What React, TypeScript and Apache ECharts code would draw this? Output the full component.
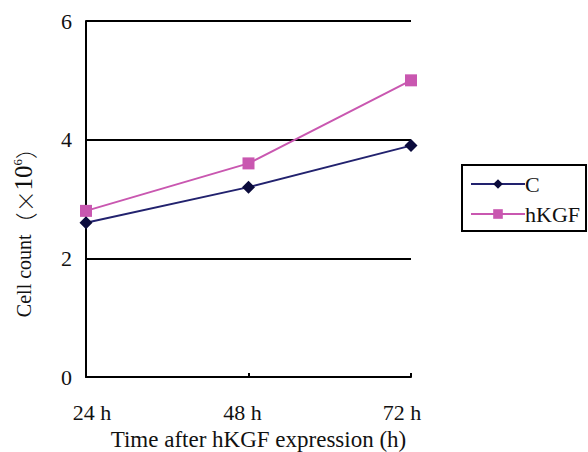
import React, { useEffect, useRef } from "react";
import * as echarts from "echarts";

const categories = ["24 h", "48 h", "72 h"];
const seriesC = [2.6, 3.2, 3.9];
const seriesHKGF = [2.8, 3.6, 5.0];
const yTicks = { min: 0, max: 6, interval: 2 };

const FONT = "'Liberation Serif', 'Times New Roman', serif";
const CJK = "'Noto Sans CJK SC', sans-serif";
const FS = 22;

export default function App() {
  const ref = useRef<HTMLDivElement>(null);
  useEffect(() => {
    if (!ref.current) return;
    const chart = echarts.init(ref.current, null, { renderer: "svg" });
    const labelStyles = ["l0", "l1", "l2"];
    chart.setOption({
      animation: false,
      backgroundColor: "#ffffff",
      textStyle: { fontFamily: FONT, color: "#111" },
      grid: {
        left: 86,
        right: 177,
        top: 21,
        bottom: 75,
        containLabel: false,
        outerBoundsMode: "none",
      },
      legend: {
        orient: "vertical",
        left: 462,
        top: 165,
        itemWidth: 54,
        itemHeight: 12,
        itemGap: 8,
        padding: [8, 6, 6, 8],
        borderColor: "#000",
        borderWidth: 2,
        textStyle: { fontFamily: FONT, fontSize: FS, color: "#111", padding: [0, 0, 0, -5] },
        data: ["C", "hKGF"],
      },
      xAxis: {
        type: "category",
        data: categories,
        boundaryGap: false,
        axisLine: { lineStyle: { color: "#000", width: 2 } },
        axisTick: { inside: true, length: 4, lineStyle: { color: "#000", width: 2 } },
        axisLabel: {
          fontFamily: FONT,
          fontSize: FS,
          color: "#111",
          margin: 24,
          formatter: (v: string, i: number) => `{${labelStyles[i] || "l1"}|${v}}`,
          rich: {
            l0: { fontFamily: FONT, fontSize: FS, color: "#111", padding: [0, 0, 0, 12] },
            l1: { fontFamily: FONT, fontSize: FS, color: "#111", padding: [0, 12, 0, 0] },
            l2: { fontFamily: FONT, fontSize: FS, color: "#111", padding: [0, 18, 0, 0] },
          },
        },
        name: "Time after hKGF expression (h)",
        nameLocation: "middle",
        nameGap: 50,
        nameTextStyle: {
          fontFamily: FONT,
          fontSize: 23,
          color: "#111",
          padding: [0, 0, 0, 20],
        },
      },
      yAxis: {
        type: "value",
        min: yTicks.min,
        max: yTicks.max,
        interval: yTicks.interval,
        axisLine: { show: true, lineStyle: { color: "#000", width: 2 } },
        axisTick: { show: false },
        splitLine: { lineStyle: { color: "#000", width: 2 } },
        axisLabel: { fontFamily: FONT, fontSize: FS, color: "#111", margin: 14 },
        name: "Cell count{p|（×}{n|10}{sup|6}{p|）}",
        nameLocation: "middle",
        nameGap: 50,
        nameRotate: 90,
        nameTextStyle: {
          fontFamily: FONT,
          fontSize: 20,
          color: "#111",
          padding: [0, 56, 0, 0],
          rich: {
            p: { fontFamily: CJK, fontSize: 22, color: "#111", fontWeight: 300 },
            n: { fontFamily: FONT, fontSize: 25, color: "#111" },
            sup: { fontFamily: FONT, fontSize: 13, color: "#111", padding: [0, 0, 12, 0] },
          },
        },
      },
      series: [
        {
          name: "C",
          type: "line",
          data: seriesC,
          symbol: "diamond",
          symbolSize: 13,
          lineStyle: { color: "#22226e", width: 2 },
          itemStyle: { color: "#0b0b3c" },
        },
        {
          name: "hKGF",
          type: "line",
          data: seriesHKGF,
          symbol: "rect",
          symbolSize: 12,
          lineStyle: { color: "#c957b0", width: 2 },
          itemStyle: { color: "#c957b0" },
        },
      ],
    });
    return () => chart.dispose();
  }, []);
  return (
    <div
      ref={ref}
      style={{ position: "fixed", left: 0, top: 0, width: 588, height: 452 }}
    />
  );
}
